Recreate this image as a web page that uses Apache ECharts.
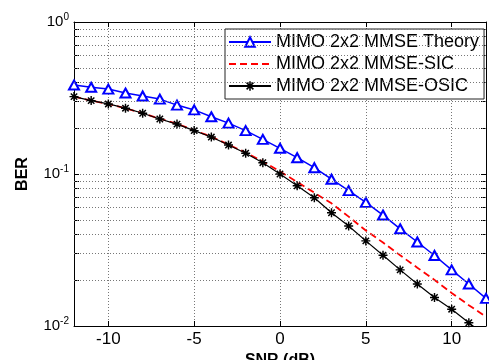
<!DOCTYPE html>
<html>
<head>
<meta charset="utf-8">
<script src="https://cdn.jsdelivr.net/npm/echarts@6/dist/echarts.min.js"></script>
<style>
  html, body { margin: 0; padding: 0; background: #fff; }
  #chart { width: 489px; height: 360px; }
</style>
</head>
<body>
<div id="chart"></div>
<script>
// SNR points (dB)
const snr = [-12, -11, -10, -9, -8, -7, -6, -5, -4, -3, -2, -1, 0, 1, 2, 3, 4, 5, 6, 7, 8, 9, 10, 11, 12];
// BER values
const berTheory = [0.385, 0.372, 0.362, 0.341, 0.326, 0.311, 0.284, 0.264, 0.238, 0.216, 0.193, 0.169, 0.1476,
  0.128, 0.110, 0.0924, 0.0777, 0.0651, 0.0537, 0.0436, 0.0357, 0.0291, 0.0234, 0.0189, 0.0152];
const berSic = [0.323, 0.304, 0.289, 0.271, 0.251, 0.231, 0.214, 0.194, 0.176, 0.156, 0.1385, 0.121, 0.104,
  0.0886, 0.0753, 0.0641, 0.0524, 0.0425, 0.0354, 0.0292, 0.0242, 0.0201, 0.0165, 0.0137, 0.0115];
const berOsic = [0.323, 0.304, 0.289, 0.271, 0.251, 0.230, 0.213, 0.193, 0.175, 0.155, 0.137, 0.1187, 0.100,
  0.0837, 0.0698, 0.0556, 0.0455, 0.0363, 0.0292, 0.0234, 0.0189, 0.0154, 0.0129, 0.0105, 0.0086];
const seriesNames = ["MIMO 2x2 MMSE Theory", "MIMO 2x2 MMSE-SIC", "MIMO 2x2 MMSE-OSIC"];
const xTicks = [-10, -5, 0, 5, 10];
// log minor grid / tick positions
const minorY = [0.02, 0.03, 0.04, 0.05, 0.06, 0.07, 0.08, 0.09, 0.2, 0.3, 0.4, 0.5, 0.6, 0.7, 0.8, 0.9];
const majorY = [0.01, 0.1, 1];

const pairs = (ys) => snr.map((x, i) => [x, ys[i]]);
const FONT = "Liberation Sans";
const gridDot = { type: [1, 2], color: "#777", width: 1 };

// MATLAB-like '*' marker
const starPath = "path://M-0.8,-5L0.8,-5L0.8,5L-0.8,5Z" +
  "M-5,-0.8L5,-0.8L5,0.8L-5,0.8Z" +
  "M-4.11,-2.97L-2.97,-4.11L4.11,2.97L2.97,4.11Z" +
  "M-2.97,4.11L-4.11,2.97L2.97,-4.11L4.11,-2.97Z";

const chart = echarts.init(document.getElementById("chart"));
const option = {
  animation: false,
  backgroundColor: "#fff",
  textStyle: { fontFamily: FONT },
  grid: { left: 74, right: 3, top: 22, bottom: 34, outerBoundsMode: "none", containLabel: false },
  legend: {
    data: [
      { name: seriesNames[0] },
      { name: seriesNames[1], itemStyle: { opacity: 0 } },
      { name: seriesNames[2] },
    ],
    orient: "vertical",
    left: 225,
    top: 29,
    padding: [4, 5, 4, 3],
    itemGap: 4,
    itemWidth: 42,
    itemHeight: 12,
    backgroundColor: "#fff",
    borderColor: "#222",
    borderWidth: 1,
    textStyle: { fontFamily: FONT, fontSize: 18, color: "#000", lineHeight: 18 },
  },
  xAxis: [
    {
      type: "value",
      min: -12,
      max: 12,
      name: "SNR (dB)",
      nameLocation: "middle",
      nameGap: 26,
      nameTextStyle: { fontFamily: FONT, fontSize: 16, fontWeight: "bold", color: "#000" },
      axisLine: { onZero: false, lineStyle: { color: "#000", width: 1 } },
      axisTick: { inside: true, length: 5, customValues: xTicks, lineStyle: { color: "#000" } },
      axisLabel: { customValues: xTicks, color: "#000", fontSize: 17, fontFamily: FONT, margin: 5 },
      splitLine: { show: true, lineStyle: gridDot },
    },
    {
      type: "value",
      position: "top",
      min: -12,
      max: 12,
      axisLine: { onZero: false, lineStyle: { color: "#000", width: 1 } },
      axisTick: { inside: true, length: 5, customValues: xTicks, lineStyle: { color: "#000" } },
      axisLabel: { show: false },
      splitLine: { show: false },
    },
  ],
  yAxis: [
    {
      type: "log",
      logBase: 10,
      min: 0.01,
      max: 1,
      name: "BER",
      nameLocation: "middle",
      nameGap: 43,
      nameTextStyle: { fontFamily: FONT, fontSize: 16, fontWeight: "bold", color: "#000" },
      axisLine: { onZero: false, lineStyle: { color: "#000", width: 1 } },
      axisTick: { inside: true, length: 5, customValues: majorY.concat(minorY), lineStyle: { color: "#000" } },
      axisLabel: {
        customValues: majorY,
        margin: 5,
        formatter: (v) => "{b|10}{s|" + Math.round(Math.log10(v)) + "}",
        rich: {
          b: { fontSize: 15, fontFamily: FONT, color: "#000" },
          s: { fontSize: 10, fontFamily: FONT, color: "#000", padding: [0, 0, 9, 0] },
        },
      },
      splitLine: { show: true, lineStyle: gridDot },
    },
    {
      type: "log",
      logBase: 10,
      min: 0.01,
      max: 1,
      position: "right",
      axisLine: { onZero: false, lineStyle: { color: "#000", width: 1 } },
      axisTick: { inside: true, length: 5, customValues: majorY.concat(minorY), lineStyle: { color: "#000" } },
      axisLabel: { show: false },
      splitLine: { show: false },
    },
  ],
  series: [
    {
      name: "grid",
      type: "line",
      data: [],
      silent: true,
      markLine: {
        silent: true,
        symbol: ["none", "none"],
        label: { show: false },
        lineStyle: gridDot,
        data: minorY.map((v) => ({ yAxis: v })),
      },
    },
    {
      name: seriesNames[0],
      type: "line",
      data: pairs(berTheory),
      color: "#0000ff",
      symbol: "emptyTriangle",
      symbolSize: [10, 9],
      lineStyle: { color: "#0000ff", width: 1.5 },
      itemStyle: { color: "#0000ff", borderColor: "#0000ff", borderWidth: 1.5 },
      z: 4,
    },
    {
      name: seriesNames[1],
      type: "line",
      data: pairs(berSic),
      color: "#ff0000",
      showSymbol: false,
      symbol: "none",
      lineStyle: { color: "#ff0000", width: 1.8, type: [7, 4] },
      z: 3,
    },
    {
      name: seriesNames[2],
      type: "line",
      data: pairs(berOsic),
      color: "#000",
      symbol: starPath,
      symbolSize: 9,
      lineStyle: { color: "#000", width: 1.2 },
      itemStyle: { color: "#000" },
      z: 5,
    },
  ],
};
chart.setOption(option);
</script>
</body>
</html>
